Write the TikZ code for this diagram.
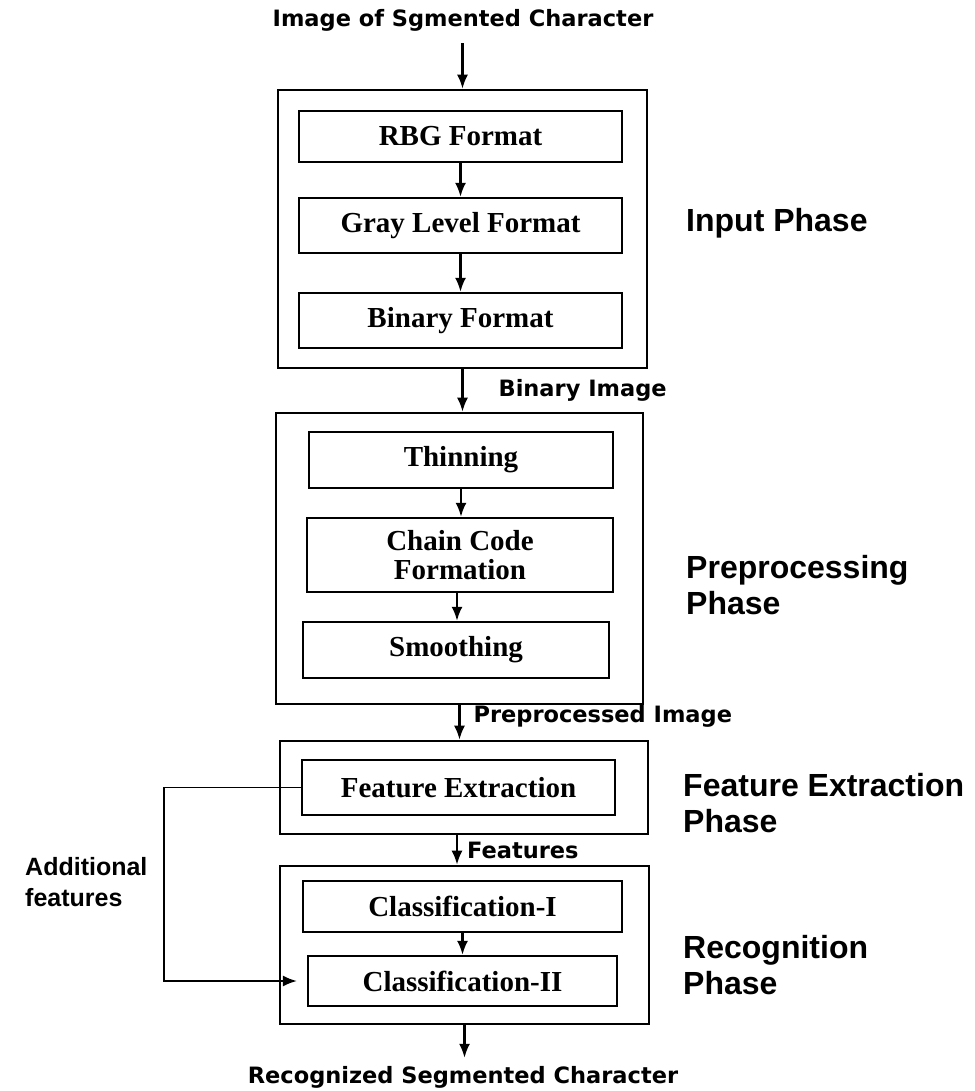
\documentclass[tikz,border=0pt]{standalone}
\usepackage{fontspec}
\setmainfont{Liberation Serif}
\newfontfamily\phasefont{Liberation Sans}
\newfontfamily\flowfont{DejaVu Sans}
\usetikzlibrary{arrows.meta}

\begin{document}
\begin{tikzpicture}[x=1pt,y=-1pt,
        outer/.style={draw, line width=2.6pt, inner sep=0pt},
        stage/.style={draw, line width=2.3pt, inner sep=0pt, align=center,
            font=\fontsize{29}{29}\selectfont\bfseries},
        flow/.style={font=\fontsize{22.5}{26}\selectfont\flowfont\bfseries, inner sep=0pt},
        phase/.style={font=\fontsize{32}{36}\selectfont\phasefont\bfseries,
            align=left, anchor=west, inner sep=0pt},
        arr/.style={line width=2.2pt, -{Latex[length=14pt,width=11pt]}}]
        \useasboundingbox (0,0) rectangle (974,1091);

        % outer phase boxes
        \node[outer, minimum width=369pt, minimum height=278pt] (inbox) at (462.5,229) {};
        \node[outer, minimum width=367pt, minimum height=291pt] (prebox) at (459.5,558.5) {};
        \node[outer, minimum width=368pt, minimum height=93pt] (febox) at (464,787.5) {};
        \node[outer, minimum width=369pt, minimum height=158pt] (recbox) at (464.5,945) {};

        % stages
        \node[stage, minimum width=323pt, minimum height=51pt] (rbg) at (460.5,136.5) {RBG Format};
        \node[stage, minimum width=323pt, minimum height=55pt] (gray) at (460.5,225.5) {Gray Level Format};
        \node[stage, minimum width=323pt, minimum height=55pt] (bin) at (460.5,320.5) {Binary Format};
        \node[stage, minimum width=304pt, minimum height=56pt] (thin) at (461,460) {Thinning};
        \node[stage, minimum width=306pt, minimum height=74pt] (chain) at (460,555) {Chain Code\\Formation};
        \node[stage, minimum width=306pt, minimum height=56pt] (smooth) at (456,650) {Smoothing};
        \node[stage, minimum width=313pt, minimum height=55pt] (feat) at (458.5,787.5) {Feature Extraction};
        \node[stage, minimum width=319pt, minimum height=51pt] (cls1) at (462.5,906.5) {Classification-I};
        \node[stage, minimum width=309pt, minimum height=50pt] (cls2) at (462.5,981) {Classification-II};

        % texts
        \node[flow] (title) at (463,20) {Image of Sgmented Character};
        \node[flow] (result) at (463,1077) {Recognized Segmented Character};
        \node[phase] (p1) at (686,223) {Input Phase};
        \node[phase] (p2) at (686,585.5) {Preprocessing\\Phase};
        \node[phase] (p3) at (683,803) {Feature Extraction\\Phase};
        \node[phase] (p4) at (683,965) {Recognition\\Phase};
        \node[font=\fontsize{25}{31}\selectfont\phasefont\bfseries, align=left, anchor=west, inner sep=0pt]
            (add) at (25,882.5) {Additional\\features};

        % arrows
        \draw[arr, shorten <=12pt] (title.south -| inbox.north) -- (inbox.north);
        \draw[arr] (rbg) -- (gray);
        \draw[arr] (gray) -- (bin);
        \draw[arr] (inbox.south) -- (inbox.south |- prebox.north)
            node[flow, midway, right=35pt] {Binary Image};
        \draw[arr] (thin.south) -- (thin.south |- chain.north);
        \draw[arr] ([xshift=-3pt]chain.south) -- ([xshift=-3pt]chain.south |- smooth.north);
        \draw[arr] (prebox.south) -- (prebox.south |- febox.north)
            node[flow, pos=0.33, right=13pt] {Preprocessed Image};
        \draw[arr] ([xshift=-7pt]febox.south) -- ([xshift=-7pt]febox.south |- recbox.north)
            node[flow, midway, right=9pt] {Features};
        \draw[arr] (cls1) -- (cls1 |- cls2.north);
        \draw[arr, shorten >=8pt] (recbox.south) -- (recbox.south |- result.north);
        \draw[arr, line width=1.8pt, shorten >=10pt] (feat.west) -- ++(-137,0) |- (cls2.west);
\end{tikzpicture}
\end{document}
